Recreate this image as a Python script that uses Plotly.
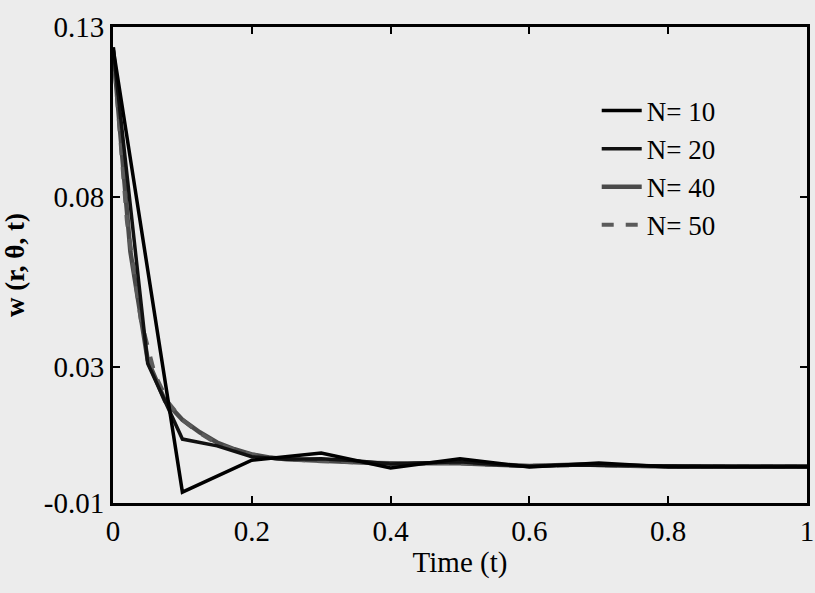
import plotly.graph_objects as go

# ---- data ----
t10 = [0.0, 0.1, 0.2, 0.3, 0.4, 0.5, 0.6, 0.7, 0.8, 0.9, 1.0]
w10 = [0.124, -0.0068, 0.0026, 0.0047, 0.0003, 0.0030, 0.0006, 0.0018, 0.0006, 0.0007, 0.0006]

t20 = [0.0, 0.05, 0.1, 0.15, 0.2, 0.25, 0.3, 0.35, 0.4, 0.45, 0.5,
       0.55, 0.6, 0.65, 0.7, 0.75, 0.8, 0.85, 0.9, 0.95, 1.0]
w20 = [0.124, 0.031, 0.0088, 0.0068, 0.0036, 0.0029, 0.0030, 0.0024, 0.0015, 0.0018, 0.0021,
       0.0013, 0.0008, 0.0012, 0.0011, 0.0008, 0.0007, 0.0008, 0.0007, 0.0007, 0.0007]

t40 = [0.0, 0.025, 0.05, 0.075, 0.1, 0.125, 0.15, 0.175, 0.2, 0.225, 0.25,
       0.275, 0.3, 0.325, 0.35, 0.375, 0.4, 0.425, 0.45, 0.475, 0.5,
       0.525, 0.55, 0.575, 0.6, 0.625, 0.65, 0.675, 0.7, 0.725, 0.75,
       0.775, 0.8, 0.825, 0.85, 0.875, 0.9, 0.925, 0.95, 0.975, 1.0]
w40 = [0.124, 0.064, 0.032, 0.020, 0.0145, 0.0108, 0.0078, 0.0058, 0.0043, 0.0034, 0.0029,
       0.0026, 0.0024, 0.0022, 0.0020, 0.0018, 0.0016, 0.0016, 0.0017, 0.0018, 0.0017,
       0.0015, 0.0012, 0.0010, 0.0009, 0.0010, 0.0012, 0.0013, 0.0012, 0.0010, 0.0009,
       0.0008, 0.0008, 0.0008, 0.0008, 0.0008, 0.0008, 0.0008, 0.0008, 0.0008, 0.0008]

t50 = [0.0, 0.02, 0.04, 0.06, 0.08, 0.1, 0.12, 0.14, 0.16, 0.18, 0.2,
       0.22, 0.24, 0.26, 0.28, 0.3, 0.32, 0.34, 0.36, 0.38, 0.4,
       0.42, 0.44, 0.46, 0.48, 0.5, 0.52, 0.54, 0.56, 0.58, 0.6,
       0.62, 0.64, 0.66, 0.68, 0.7, 0.72, 0.74, 0.76, 0.78, 0.8,
       0.82, 0.84, 0.86, 0.88, 0.9, 0.92, 0.94, 0.96, 0.98, 1.0]
w50 = [0.124, 0.073, 0.044, 0.028, 0.0195, 0.0145, 0.0112, 0.0087, 0.0067, 0.0053, 0.0043,
       0.0035, 0.0030, 0.0027, 0.0025, 0.0023, 0.0022, 0.0020, 0.0019, 0.0017, 0.0016,
       0.0016, 0.0017, 0.0018, 0.0018, 0.0017, 0.0015, 0.0012, 0.0010, 0.0009, 0.0009,
       0.0010, 0.0012, 0.0013, 0.0012, 0.0011, 0.0010, 0.0009, 0.0008, 0.0008, 0.0008,
       0.0008, 0.0008, 0.0008, 0.0008, 0.0008, 0.0008, 0.0008, 0.0008, 0.0008, 0.0008]

x_ticks = [0, 0.2, 0.4, 0.6, 0.8, 1]
x_labels = ["0", "0.2", "0.4", "0.6", "0.8", "1"]
y_ticks = [-0.01, 0.03, 0.08, 0.13]
y_labels = ["-0.01", "0.03", "0.08", "0.13"]

FONT = "Liberation Serif"

fig = go.Figure()
fig.add_trace(go.Scatter(x=t40, y=w40, mode="lines", name="N= 40", legendrank=3,
                         legendgroup="c", line=dict(color="#4a4a4a", width=4.5)))
fig.add_trace(go.Scatter(x=t50, y=w50, mode="lines", name="N= 50", legendrank=4,
                         legendgroup="d", line=dict(color="#5a5a5a", width=4, dash="dash")))
fig.add_trace(go.Scatter(x=t20, y=w20, mode="lines", name="N= 20", legendrank=2,
                         legendgroup="b", line=dict(color="#111111", width=3.5)))
fig.add_trace(go.Scatter(x=t10, y=w10, mode="lines", name="N= 10", legendrank=1,
                         legendgroup="a", line=dict(color="#000000", width=3.5)))

axis_common = dict(
    showline=True, linecolor="black", linewidth=3, mirror="ticks",
    ticks="inside", ticklen=7, tickwidth=2, tickcolor="black",
    showgrid=False, zeroline=False, ticklabeloverflow="allow", automargin=False,
    tickfont=dict(family=FONT, size=29, color="black"),
)

fig.update_xaxes(range=[0, 1], tickvals=x_ticks, ticktext=x_labels,
                 title=dict(text="Time (t)", font=dict(family=FONT, size=29, color="black"), standoff=6),
                 **axis_common)
fig.update_yaxes(range=[-0.01, 0.13], tickvals=y_ticks, ticktext=y_labels,
                 title=dict(text="<b>w (r, θ, t)</b>", font=dict(family=FONT, size=27, color="black"), standoff=12),
                 **axis_common)

fig.update_layout(
    width=815, height=593,
    margin=dict(l=113, r=8, t=27, b=90),
    paper_bgcolor="#ececec", plot_bgcolor="#ececec",
    font=dict(family=FONT, color="black"),
    legend=dict(x=0.697, y=0.875, xanchor="left", yanchor="top",
                bgcolor="rgba(0,0,0,0)", borderwidth=0,
                font=dict(family=FONT, size=27, color="black"),
                tracegroupgap=0, itemwidth=40),
    showlegend=True,
)

fig.write_html("out.html")
